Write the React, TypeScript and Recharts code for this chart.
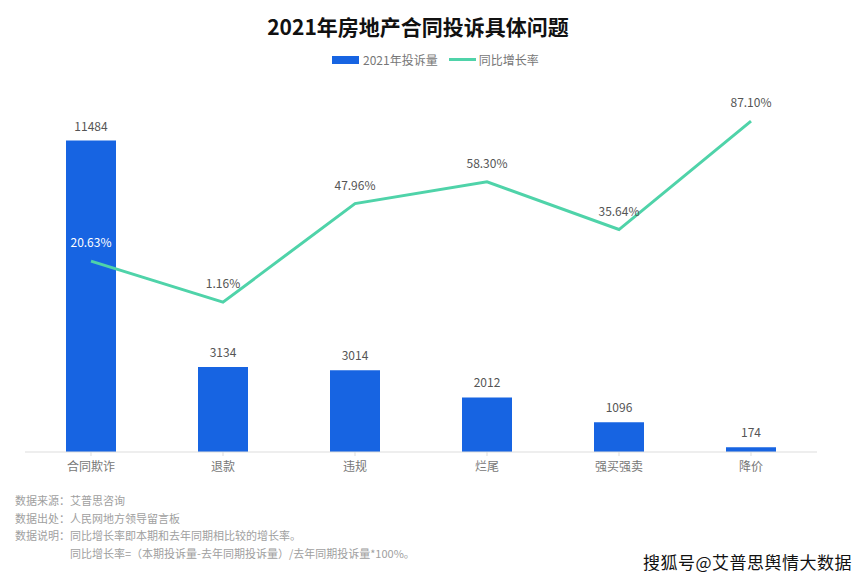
import {
  ComposedChart,
  Bar,
  Line,
  XAxis,
  YAxis,
  LabelList,
} from "recharts";

const categories = ["合同欺诈", "退款", "违规", "烂尾", "强买强卖", "降价"];
const complaints = [11484, 3134, 3014, 2012, 1096, 174];
const growth = [20.63, 1.16, 47.96, 58.3, 35.64, 87.1];

const notes = [
  "数据来源：艾普思咨询",
  "数据出处：人民网地方领导留言板",
  "数据说明：同比增长率即本期和去年同期相比较的增长率。",
];
const formulaNote = "同比增长率=（本期投诉量-去年同期投诉量）/去年同期投诉量*100%。";

const data = categories.map((name, i) => ({
  name,
  complaints: complaints[i],
  growth: growth[i],
}));

const FONT = "'Noto Sans CJK SC', 'Noto Sans', sans-serif";
const BLUE = "#1764e2";
const GREEN = "#4fd3a9";

interface LabelProps {
  x?: number;
  y?: number;
  width?: number;
  value?: number;
  index?: number;
}

function GrowthLabel({ x = 0, y = 0, value = 0, index = 0 }: LabelProps) {
  return (
    <text
      x={x}
      y={y - 14}
      textAnchor="middle"
      fontSize={12}
      fontFamily={FONT}
      fill={index === 0 ? "#ffffff" : "#555"}
    >
      {value.toFixed(2)}%
    </text>
  );
}

export default function App() {
  return (
    <div
      style={{
        position: "absolute",
        left: 0,
        top: 0,
        width: 868,
        height: 583,
        background: "#fff",
        fontFamily: FONT,
      }}
    >
      <div
        style={{
          position: "absolute",
          top: 11,
          left: 0,
          width: 836,
          textAlign: "center",
          fontSize: 21,
          fontWeight: 700,
          color: "#111",
        }}
      >
        2021年房地产合同投诉具体问题
      </div>
      <div
        style={{
          position: "absolute",
          top: 51,
          left: 332,
          display: "flex",
          alignItems: "center",
          fontSize: 12,
          color: "#777",
        }}
      >
        <span style={{ width: 27, height: 8, background: BLUE, marginRight: 4 }} />
        <span>2021年投诉量</span>
        <span
          style={{ width: 27, height: 3, background: GREEN, marginLeft: 11, marginRight: 3 }}
        />
        <span>同比增长率</span>
      </div>
      <div style={{ position: "absolute", top: 0, left: 0 }}>
        <ComposedChart
          width={868}
          height={480}
          data={data}
          margin={{ top: 94, right: 51, bottom: 0, left: 25 }}
        >
          <XAxis
            dataKey="name"
            height={28}
            tick={{ fill: "#777", fontSize: 12, fontFamily: FONT }}
            tickLine={{ stroke: "#ddd" }}
            axisLine={{ stroke: "#ddd" }}
            tickSize={4}
            dy={4}
          />
          <YAxis yAxisId="left" hide domain={[0, 13200]} />
          <YAxis yAxisId="right" hide orientation="right" domain={[-70, 100]} />
          <Bar
            yAxisId="left"
            dataKey="complaints"
            fill={BLUE}
            barSize={50}
            isAnimationActive={false}
          >
            <LabelList
              dataKey="complaints"
              position="top"
              offset={10}
              fill="#555"
              fontSize={12}
              fontFamily={FONT}
            />
          </Bar>
          <Line
            yAxisId="right"
            dataKey="growth"
            type="linear"
            stroke={GREEN}
            strokeWidth={3}
            dot={false}
            isAnimationActive={false}
          >
            <LabelList dataKey="growth" content={<GrowthLabel />} />
          </Line>
        </ComposedChart>
      </div>
      <div
        style={{
          position: "absolute",
          top: 492,
          left: 15,
          fontSize: 11,
          color: "#a0a0a0",
          lineHeight: "17.5px",
        }}
      >
        {notes.map((n) => (
          <div key={n}>{n}</div>
        ))}
        <div style={{ paddingLeft: 55 }}>{formulaNote}</div>
      </div>
      <div
        style={{
          position: "absolute",
          top: 549,
          left: 643,
          fontSize: 17,
          color: "#111",
          textShadow: "0 0 2px #fff, 0 0 2px #fff",
          letterSpacing: 0.5,
        }}
      >
        搜狐号@艾普思舆情大数据
      </div>
    </div>
  );
}
